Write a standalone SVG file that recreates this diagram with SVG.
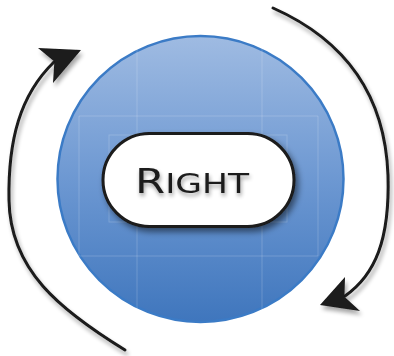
<svg xmlns="http://www.w3.org/2000/svg" width="394" height="356" viewBox="0 0 394 356">
<defs>
<linearGradient id="gBlue" x1="0" y1="0" x2="0" y2="1">
<stop offset="0" stop-color="#9fbbe2"/>
<stop offset="0.5" stop-color="#6d98d2"/>
<stop offset="1" stop-color="#3f76bd"/>
</linearGradient>
<filter id="sh" x="-20%" y="-20%" width="150%" height="150%">
<feGaussianBlur in="SourceAlpha" stdDeviation="3"/>
<feOffset dx="3" dy="4" result="b"/>
<feComponentTransfer><feFuncA type="linear" slope="0.5"/></feComponentTransfer>
<feMerge><feMergeNode/><feMergeNode in="SourceGraphic"/></feMerge>
</filter>
<filter id="tsh" x="-20%" y="-20%" width="150%" height="160%">
<feGaussianBlur in="SourceAlpha" stdDeviation="2"/>
<feOffset dx="1" dy="3"/>
<feComponentTransfer><feFuncA type="linear" slope="0.4"/></feComponentTransfer>
<feMerge><feMergeNode/><feMergeNode in="SourceGraphic"/></feMerge>
</filter>
<filter id="ash" x="-30%" y="-30%" width="160%" height="160%">
<feGaussianBlur in="SourceAlpha" stdDeviation="2"/>
<feOffset dx="2" dy="4"/>
<feComponentTransfer><feFuncA type="linear" slope="0.35"/></feComponentTransfer>
<feMerge><feMergeNode/><feMergeNode in="SourceGraphic"/></feMerge>
</filter>
</defs>
<style>
.grid{stroke:#ffffff;stroke-opacity:0.18;stroke-width:1;fill:none}
.conn{fill:none;stroke:#1a1a1a;stroke-width:3;stroke-linecap:round}
.head{fill:#1a1a1a}
.lbl{font-family:"DejaVu Sans","Liberation Sans",sans-serif;fill:#1e1e1e}
</style>
<rect width="394" height="356" fill="#ffffff"/>
<g id="circle">
<circle cx="200.5" cy="179" r="143" fill="url(#gBlue)" stroke="#3b7bc6" stroke-width="2.5"/>
<line class="grid" x1="137" y1="38" x2="137" y2="320"/>
<line class="grid" x1="262" y1="38" x2="262" y2="320"/>
<line class="grid" x1="79" y1="116" x2="318" y2="116"/>
<line class="grid" x1="79" y1="256" x2="318" y2="256"/>
<line class="grid" x1="79" y1="116" x2="79" y2="256"/>
<line class="grid" x1="318" y1="116" x2="318" y2="256"/>
<rect class="grid" x="109" y="135" width="178" height="87"/>
</g>
<g id="right">
<rect x="103" y="133.5" width="191" height="93" rx="46.5" fill="#ffffff" stroke="#1a1a1a" stroke-width="3" filter="url(#sh)"/>
<text class="lbl" x="135" y="193" textLength="114" lengthAdjust="spacingAndGlyphs" filter="url(#tsh)"><tspan font-size="34">R</tspan><tspan font-size="27">IGHT</tspan></text>
</g>
<g id="connectors" filter="url(#ash)">
<path class="conn" d="M125,350 C60,310 10,270 9,200 C8,140 20,95 54,62"/>
<polygon class="head" points="81,50 38,48 54.4,61.6 53,83"/>
<path class="conn" d="M273,8 C345,40 385,95 388,175 C390,240 375,275 345,296"/>
<polygon class="head" points="320,305 345,277 344.4,296.7 360,311"/>
</g>
</svg>
